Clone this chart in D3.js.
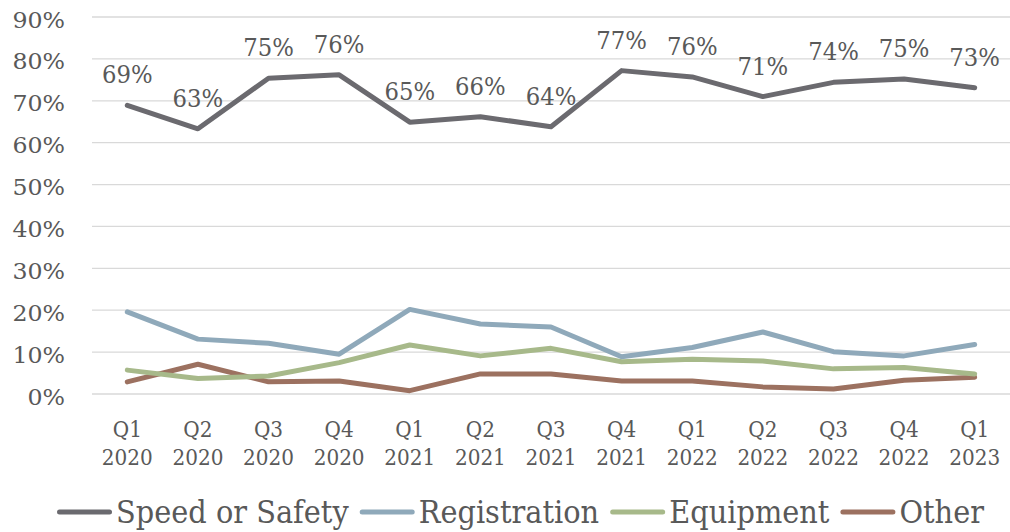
<!DOCTYPE html>
<html>
<head>
<meta charset="utf-8">
<script src="https://cdn.jsdelivr.net/npm/d3@7"></script>
<style>
  html, body { margin: 0; padding: 0; background: #fff; }
  svg { display: block; }
  text { font-family: "DejaVu Serif", "Liberation Serif", serif; fill: #595959; }
</style>
</head>
<body>
<svg id="chart" width="1010" height="532"></svg>
<script>
const quarters = ["Q1","Q2","Q3","Q4","Q1","Q2","Q3","Q4","Q1","Q2","Q3","Q4","Q1"];
const years = ["2020","2020","2020","2020","2021","2021","2021","2021","2022","2022","2022","2022","2023"];
const speedOrSafety = [68.9, 63.3, 75.4, 76.2, 64.9, 66.2, 63.8, 77.2, 75.7, 71.0, 74.4, 75.2, 73.1];
const registration  = [19.6, 13.1, 12.1, 9.5, 20.2, 16.7, 16.0, 8.9, 11.1, 14.8, 10.1, 9.1, 11.8];
const equipment     = [5.7, 3.7, 4.3, 7.5, 11.7, 9.1, 10.9, 7.7, 8.3, 7.9, 6.0, 6.3, 4.8];
const other         = [2.9, 7.1, 2.9, 3.1, 0.8, 4.8, 4.8, 3.1, 3.1, 1.7, 1.2, 3.3, 4.0];
const yTicks = [0, 10, 20, 30, 40, 50, 60, 70, 80, 90];
const seriesNames = ["Speed or Safety", "Registration", "Equipment", "Other"];
const seriesColors = ["#6b6a6f", "#8fa9ba", "#a7b98a", "#9c7160"];

const series = [speedOrSafety, registration, equipment, other].map((values, i) => ({
  name: seriesNames[i], color: seriesColors[i], values
}));
const cats = quarters.map((q, i) => q + " " + years[i]);

const svg = d3.select("#chart");
const x = d3.scaleBand().domain(cats).range([92, 1010]);
const y = d3.scaleLinear().domain([0, 90]).range([394, 17]);
const cx = c => x(c) + x.bandwidth() / 2;

// gridlines
svg.append("g").selectAll("line").data(yTicks).join("line")
  .attr("x1", 92).attr("x2", 1010)
  .attr("y1", d => y(d)).attr("y2", d => y(d))
  .attr("stroke", "#d9d9d9").attr("stroke-width", 1.3);

// y labels
svg.append("g").selectAll("text").data(yTicks).join("text")
  .attr("transform", d => `translate(65,${y(d) + 10.5}) scale(1.1,1)`)
  .attr("text-anchor", "end")
  .attr("font-size", 21.5)
  .text(d => d + "%");

// x labels
const xl = svg.append("g").selectAll("g").data(cats).join("g")
  .attr("transform", d => `translate(${cx(d)},0)`);
xl.append("text")
  .attr("transform", "translate(0,437) scale(0.87,1)")
  .attr("text-anchor", "middle").attr("font-size", 23)
  .text((d, i) => quarters[i]);
xl.append("text")
  .attr("transform", "translate(0,465) scale(0.87,1)")
  .attr("text-anchor", "middle").attr("font-size", 23)
  .text((d, i) => years[i]);

// lines
const line = d3.line().x((d, i) => cx(cats[i])).y(d => y(d));
svg.append("g").selectAll("path").data(series.slice().reverse()).join("path")
  .attr("d", s => line(s.values))
  .attr("fill", "none")
  .attr("stroke", s => s.color)
  .attr("stroke-width", 5)
  .attr("stroke-linejoin", "round")
  .attr("stroke-linecap", "round");

// data labels for speed
svg.append("g").selectAll("text").data(speedOrSafety).join("text")
  .attr("transform", (d, i) => `translate(${cx(cats[i])},${y(d) - 22}) scale(0.95,1)`)
  .attr("text-anchor", "middle")
  .attr("font-size", 24)
  .attr("fill", "#404040")
  .text(d => d3.format(".0f")(d) + "%");

// legend
const legend = svg.append("g");
const swatchW = 55, gapAfterSwatch = 4, gapAfterText = 11, fontSize = 31, sx = 0.93;
let lx = 57;
series.forEach(s => {
  legend.append("line")
    .attr("x1", lx + 2.5).attr("x2", lx + swatchW - 2.5)
    .attr("y1", 512).attr("y2", 512)
    .attr("stroke", s.color).attr("stroke-width", 5)
    .attr("stroke-linecap", "round");
  const tx = lx + swatchW + gapAfterSwatch;
  const t = legend.append("text")
    .attr("transform", `translate(${tx},523) scale(${sx},1)`)
    .attr("font-size", fontSize)
    .text(s.name);
  const w = t.node().getComputedTextLength() * sx;
  lx = tx + w + gapAfterText;
});
</script>
</body>
</html>
